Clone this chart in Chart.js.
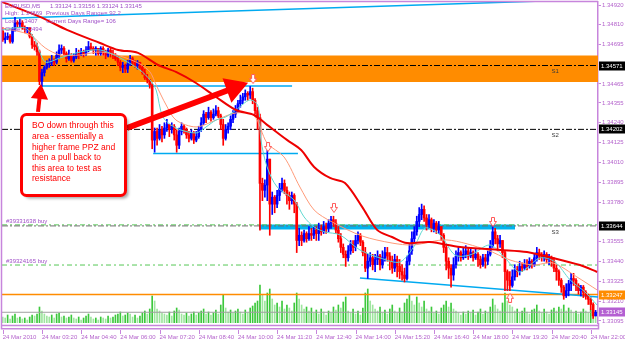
<!DOCTYPE html>
<html>
<head>
<meta charset="utf-8">
<script src="https://cdn.jsdelivr.net/npm/chart.js@4.4.0/dist/chart.umd.min.js"></script>
<style>
  html, body { margin: 0; padding: 0; background: #fff; }
  canvas { display: block; }
</style>
</head>
<body>
<canvas id="myChart" width="625" height="346"></canvas>
<script>
// EURUSD M5, 24 Mar 2010, bars from 02:00
var open = [
  1.3477,1.3472,1.3473,1.3474,1.3471,1.3478,1.3482,1.3481,1.3482,1.3479,
  1.3478,1.3479,1.3474,1.3469,1.3468,1.3465,1.3448,1.3453,1.3456,1.3458,
  1.3459,1.3460,1.3459,1.3463,1.3466,1.3467,1.3464,1.3461,1.3463,1.3460,
  1.3462,1.3464,1.3463,1.3465,1.3464,1.3466,1.3468,1.3467,1.3466,1.3467,
  1.3464,1.3467,1.3465,1.3463,1.3466,1.3464,1.3463,1.3461,1.3459,1.3456,
  1.3457,1.3455,1.3458,1.3461,1.3459,1.3457,1.3459,1.3456,1.3453,1.3450,
  1.3449,1.3446,1.3414,1.3419,1.3415,1.3420,1.3417,1.3421,1.3423,1.3420,
  1.3422,1.3417,1.3411,1.3419,1.3422,1.3420,1.3417,1.3415,1.3418,1.3414,
  1.3416,1.3420,1.3424,1.3429,1.3427,1.3430,1.3427,1.3429,1.3431,1.3428,
  1.3423,1.3415,1.3420,1.3422,1.3426,1.3429,1.3431,1.3435,1.3437,1.3439,
  1.3441,1.3440,1.3442,1.3437,1.3431,1.3427,1.3389,1.3385,1.3388,1.3403,
  1.3377,1.3381,1.3377,1.3382,1.3386,1.3389,1.3385,1.3382,1.3379,1.3382,
  1.3377,1.3356,1.3359,1.3356,1.3360,1.3357,1.3360,1.3359,1.3362,1.3360,
  1.3363,1.3361,1.3364,1.3363,1.3366,1.3368,1.3366,1.3362,1.3357,1.3352,
  1.3348,1.3346,1.3350,1.3354,1.3352,1.3356,1.3359,1.3355,1.3349,1.3340,
  1.3344,1.3346,1.3342,1.3345,1.3347,1.3342,1.3346,1.3349,1.3347,1.3344,
  1.3340,1.3345,1.3341,1.3338,1.3336,1.3334,1.3344,1.3350,1.3357,1.3361,
  1.3367,1.3371,1.3374,1.3369,1.3365,1.3368,1.3363,1.3366,1.3362,1.3364,
  1.3359,1.3352,1.3344,1.3340,1.3336,1.3342,1.3347,1.3349,1.3346,1.3348,
  1.3350,1.3347,1.3349,1.3346,1.3348,1.3345,1.3342,1.3346,1.3344,1.3348,
  1.3353,1.3361,1.3357,1.3354,1.3356,1.3349,1.3338,1.3333,1.3330,1.3335,
  1.3339,1.3338,1.3341,1.3340,1.3342,1.3341,1.3344,1.3342,1.3346,1.3349,
  1.3347,1.3346,1.3348,1.3345,1.3346,1.3344,1.3340,1.3338,1.3333,1.3329,
  1.3324,1.3327,1.3331,1.3334,1.3333,1.3330,1.3327,1.3329,1.3326,1.3324,
  1.3322,1.3319,1.33124
];
var high = [
  1.3479,1.3476,1.3476,1.3475,1.3479,1.3485,1.3483,1.3484,1.3483,1.3480,
  1.3479,1.3479,1.3475,1.3471,1.3470,1.3466,1.3455,1.3457,1.3460,1.3461,
  1.3463,1.3461,1.3465,1.3469,1.3469,1.3468,1.3465,1.3466,1.3464,1.3464,
  1.3467,1.3466,1.3467,1.3466,1.3468,1.3471,1.3470,1.3468,1.3468,1.3467,
  1.3468,1.3468,1.3466,1.3467,1.3467,1.3466,1.3464,1.3463,1.3460,1.3459,
  1.3458,1.3460,1.3463,1.3462,1.3460,1.3460,1.3459,1.3457,1.3455,1.3452,
  1.3449,1.3447,1.3421,1.3421,1.3423,1.3422,1.3424,1.3426,1.3423,1.3424,
  1.3423,1.3420,1.3421,1.3424,1.3423,1.3421,1.3419,1.3420,1.3419,1.3419,
  1.3422,1.3427,1.3431,1.3430,1.3433,1.3431,1.3432,1.3434,1.3433,1.3429,
  1.3426,1.3423,1.3424,1.3428,1.3431,1.3434,1.3437,1.3440,1.3441,1.3443,
  1.3442,1.3445,1.3444,1.3438,1.3433,1.3429,1.3392,1.3391,1.3408,1.3403,
  1.3384,1.3382,1.3385,1.3389,1.3392,1.3391,1.3387,1.3384,1.3384,1.3383,
  1.3378,1.3363,1.3361,1.3362,1.3361,1.3364,1.3363,1.3364,1.3364,1.3366,
  1.3365,1.3367,1.3366,1.3368,1.3370,1.3370,1.3368,1.3364,1.3360,1.3354,
  1.3350,1.3353,1.3356,1.3356,1.3359,1.3361,1.3360,1.3356,1.3352,1.3348,
  1.3349,1.3348,1.3348,1.3350,1.3348,1.3350,1.3352,1.3352,1.3349,1.3347,
  1.3348,1.3347,1.3345,1.3342,1.3340,1.3347,1.3354,1.3361,1.3364,1.3370,
  1.3375,1.3377,1.3376,1.3371,1.3371,1.3369,1.3368,1.3367,1.3367,1.3364,
  1.3360,1.3353,1.3346,1.3342,1.3346,1.3350,1.3352,1.3350,1.3352,1.3353,
  1.3352,1.3352,1.3350,1.3351,1.3349,1.3347,1.3348,1.3348,1.3350,1.3356,
  1.3367,1.3363,1.3359,1.3359,1.3356,1.3350,1.3339,1.3338,1.3339,1.3342,
  1.3341,1.3344,1.3343,1.3345,1.3345,1.3346,1.3345,1.3348,1.3352,1.3351,
  1.3349,1.3350,1.3349,1.3348,1.3347,1.3346,1.3342,1.3339,1.3334,1.3330,
  1.3331,1.3333,1.3337,1.3337,1.3334,1.3331,1.3330,1.3330,1.3327,1.3325,
  1.3323,1.3320,1.33156
];
var low = [
  1.3471,1.3470,1.3472,1.3470,1.3470,1.3477,1.3479,1.3479,1.3478,1.3476,
  1.3476,1.3473,1.3467,1.3466,1.3463,1.3446,1.3445,1.3451,1.3455,1.3456,
  1.3457,1.3457,1.3458,1.3461,1.3464,1.3463,1.3459,1.3460,1.3459,1.3459,
  1.3461,1.3461,1.3463,1.3462,1.3463,1.3465,1.3466,1.3464,1.3463,1.3463,
  1.3463,1.3463,1.3461,1.3462,1.3462,1.3461,1.3460,1.3457,1.3454,1.3453,
  1.3453,1.3453,1.3457,1.3457,1.3456,1.3455,1.3455,1.3452,1.3449,1.3447,
  1.3444,1.3409,1.3407,1.3411,1.3414,1.3413,1.3415,1.3419,1.3416,1.3418,
  1.3414,1.3407,1.3409,1.3417,1.3418,1.3415,1.3413,1.3414,1.3412,1.3413,
  1.3415,1.3419,1.3423,1.3424,1.3426,1.3425,1.3426,1.3428,1.3427,1.3420,
  1.3411,1.3414,1.3418,1.3420,1.3424,1.3427,1.3430,1.3433,1.3435,1.3437,
  1.3437,1.3438,1.3435,1.3429,1.3420,1.3362,1.3379,1.3381,1.3379,1.3359,
  1.3371,1.3372,1.3375,1.3379,1.3384,1.3383,1.3377,1.3374,1.3377,1.3372,
  1.3349,1.3353,1.3353,1.3355,1.3355,1.3356,1.3356,1.3357,1.3356,1.3356,
  1.3359,1.3360,1.3360,1.3361,1.3363,1.3364,1.3360,1.3355,1.3349,1.3346,
  1.3341,1.3344,1.3348,1.3349,1.3350,1.3354,1.3353,1.3347,1.3338,1.3334,
  1.3341,1.3339,1.3338,1.3342,1.3339,1.3340,1.3344,1.3344,1.3339,1.3337,
  1.3338,1.3335,1.3334,1.3333,1.3332,1.3333,1.3342,1.3348,1.3355,1.3359,
  1.3364,1.3368,1.3367,1.3362,1.3363,1.3361,1.3361,1.3360,1.3360,1.3356,
  1.3349,1.3339,1.3334,1.3329,1.3333,1.3340,1.3344,1.3344,1.3345,1.3346,
  1.3345,1.3346,1.3344,1.3345,1.3341,1.3340,1.3341,1.3340,1.3342,1.3347,
  1.3352,1.3354,1.3350,1.3352,1.3346,1.3327,1.3327,1.3327,1.3329,1.3333,
  1.3335,1.3336,1.3338,1.3339,1.3339,1.3340,1.3340,1.3341,1.3344,1.3345,
  1.3344,1.3344,1.3343,1.3342,1.3341,1.3338,1.3333,1.3330,1.3326,1.3322,
  1.3323,1.3324,1.3327,1.3330,1.3327,1.3325,1.3324,1.3323,1.3322,1.3319,
  1.3316,1.3311,1.33124
];
var close = [
  1.3472,1.3473,1.3474,1.3471,1.3478,1.3482,1.3481,1.3482,1.3479,1.3478,
  1.3479,1.3474,1.3469,1.3468,1.3465,1.3448,1.3453,1.3456,1.3458,1.3459,
  1.3460,1.3459,1.3463,1.3466,1.3467,1.3464,1.3461,1.3463,1.3460,1.3462,
  1.3464,1.3463,1.3465,1.3464,1.3466,1.3468,1.3467,1.3466,1.3467,1.3464,
  1.3467,1.3465,1.3463,1.3466,1.3464,1.3463,1.3461,1.3459,1.3456,1.3457,
  1.3455,1.3458,1.3461,1.3459,1.3457,1.3459,1.3456,1.3453,1.3450,1.3449,
  1.3446,1.3414,1.3419,1.3415,1.3420,1.3417,1.3421,1.3423,1.3420,1.3422,
  1.3417,1.3411,1.3419,1.3422,1.3420,1.3417,1.3415,1.3418,1.3414,1.3416,
  1.3420,1.3424,1.3429,1.3427,1.3430,1.3427,1.3429,1.3431,1.3428,1.3423,
  1.3415,1.3420,1.3422,1.3426,1.3429,1.3431,1.3435,1.3437,1.3439,1.3441,
  1.3440,1.3442,1.3437,1.3431,1.3427,1.3389,1.3385,1.3388,1.3403,1.3377,
  1.3381,1.3377,1.3382,1.3386,1.3389,1.3385,1.3382,1.3379,1.3382,1.3377,
  1.3356,1.3359,1.3356,1.3360,1.3357,1.3360,1.3359,1.3362,1.3360,1.3363,
  1.3361,1.3364,1.3363,1.3366,1.3368,1.3366,1.3362,1.3357,1.3352,1.3348,
  1.3346,1.3350,1.3354,1.3352,1.3356,1.3359,1.3355,1.3349,1.3340,1.3344,
  1.3346,1.3342,1.3345,1.3347,1.3342,1.3346,1.3349,1.3347,1.3344,1.3340,
  1.3345,1.3341,1.3338,1.3336,1.3334,1.3344,1.3350,1.3357,1.3361,1.3367,
  1.3371,1.3374,1.3369,1.3365,1.3368,1.3363,1.3366,1.3362,1.3364,1.3359,
  1.3352,1.3344,1.3340,1.3336,1.3342,1.3347,1.3349,1.3346,1.3348,1.3350,
  1.3347,1.3349,1.3346,1.3348,1.3345,1.3342,1.3346,1.3344,1.3348,1.3353,
  1.3361,1.3357,1.3354,1.3356,1.3349,1.3338,1.3333,1.3330,1.3335,1.3339,
  1.3338,1.3341,1.3340,1.3342,1.3341,1.3344,1.3342,1.3346,1.3349,1.3347,
  1.3346,1.3348,1.3345,1.3346,1.3344,1.3340,1.3338,1.3333,1.3329,1.3324,
  1.3327,1.3331,1.3334,1.3333,1.3330,1.3327,1.3329,1.3326,1.3324,1.3322,
  1.3319,1.33124,1.33145
];
var volume = [
  36,30,48,24,42,54,30,36,24,30,
  18,36,48,42,54,96,72,54,42,36,
  48,30,54,60,36,42,30,36,48,30,
  24,36,18,30,42,54,36,24,30,18,
  36,30,24,42,30,36,48,54,66,42,
  48,60,54,36,48,30,42,60,72,54,
  84,162,132,84,72,60,54,48,66,42,
  72,90,78,54,48,60,42,54,66,48,
  60,72,84,54,66,48,60,78,54,108,
  168,90,66,78,60,72,84,66,54,78,
  60,90,102,120,132,228,168,132,180,204,
  144,108,120,96,132,84,108,90,72,120,
  180,144,108,84,96,72,90,60,78,54,
  84,66,48,72,60,96,78,108,90,126,
  156,72,60,84,54,72,48,90,180,204,
  132,108,84,72,96,60,78,54,84,108,
  72,60,90,66,120,144,168,132,108,156,
  120,96,132,84,72,96,60,72,54,90,
  108,132,96,120,84,72,60,48,66,54,
  72,60,78,48,66,84,54,72,60,96,
  144,108,84,72,120,180,132,108,96,72,
  84,60,72,90,66,54,78,84,108,72,
  60,84,66,54,78,90,72,96,84,108,
  72,90,78,60,72,54,66,84,72,60,
  78,66,48
];

// moving averages (bar index / price)
var slowMaBar = [-0.3,15.2,26.2,39.7,47.1,55.2,63.4,70.7,78.9,87.1,95.2,102.6,107.9,116.0,121.8,127.1,133.6,139.7,146.7,152.8,158.9,165.0,174.4,186.7,203.0,214.0,224.6,235.6,242.6];
var slowMa = [1.34938,1.34852,1.34777,1.34701,1.34661,1.34644,1.34574,1.34534,1.34470,1.34389,1.34314,1.34285,1.34228,1.34141,1.34083,1.33985,1.33921,1.33892,1.33754,1.33621,1.33580,1.33545,1.33551,1.33522,1.33505,1.33493,1.33459,1.33418,1.33378];
var midMaBar = [-0.3,11.1,17.3,23.4,31.6,39.7,47.9,56.0,60.1,62.6,66.7,70.7,78.9,87.1,95.2,102.6,107.9,114.8,121.3,127.1,134.4,146.7,158.9,167.5,181.3,197.7,207.1,216.5,224.6,234.4,242.6];
var midMa = [1.34788,1.34748,1.34673,1.34632,1.34632,1.34649,1.34626,1.34580,1.34534,1.34459,1.34343,1.34256,1.34216,1.34256,1.34297,1.34280,1.34123,1.34043,1.33869,1.33736,1.33667,1.33586,1.33545,1.33534,1.33563,1.33505,1.33447,1.33418,1.33430,1.33349,1.33274];
var fastMaBar = [-0.3,9.1,13.2,17.3,23.4,31.6,39.7,47.9,56.0,60.1,62.6,65.4,70.7,78.9,83.0,87.1,91.1,95.2,100.9,104.2,105.4,107.9,112.0,118.9,123.0,127.1,131.6,137.7,145.8,154.0,162.2,168.3,172.4,178.5,184.6,190.7,198.9,205.0,211.1,219.3,225.4,231.6,237.7,242.6];
var fastMa = [1.34777,1.34788,1.34719,1.34592,1.34615,1.34649,1.34661,1.34615,1.34545,1.34488,1.34430,1.34274,1.34210,1.34181,1.34216,1.34256,1.34274,1.34314,1.34372,1.34337,1.34141,1.33985,1.33869,1.33794,1.33696,1.33638,1.33609,1.33592,1.33505,1.33459,1.33436,1.33534,1.33632,1.33592,1.33476,1.33476,1.33534,1.33459,1.33378,1.33459,1.33436,1.33332,1.33262,1.33187];

// levels and drawn objects
var levelNames = ['S1', 'S2', 'S3'];
var levelPrices = [1.34571, 1.34202, 1.33644];
var orderTags = ['#39331638 buy', '#39324165 buy'];
var orderPrices = [1.33650, 1.33418];
var orangeLevel = 1.33247;
var bidPrice = 1.33145;
var zonePrices = [1.34476, 1.34629];
var cyanBoxBars = [104.6, 209.1];
var cyanBoxPrices = [1.33623, 1.33652];
var cyanUpperBars = [15.2, 118.1], cyanUpper = 1.34453;
var cyanLowerBars = [61.4, 120.5], cyanLower = 1.34063;
var trendTopBars = [-0.3, 243], trendTop = [1.34843, 1.34954];
var trendLowBars = [145.8, 243], trendLow = [1.33343, 1.33233];
var markerBar = [102.2, 108.3, 135.2, 200.1, 207.1];
var markerPrice = [1.34493, 1.34100, 1.33748, 1.33667, 1.33228];
var markerDir = ['down', 'down', 'down', 'down', 'up'];
var bigArrowBars = [50.7, 94.4], bigArrow = [1.34210, 1.34441];
var smallArrowBars = [14.4, 15.2], smallArrow = [1.34303, 1.34407];

var tagPrices = [1.34571, 1.34202, 1.33644, 1.33247, 1.33145];
var tagColors = ['#000000', '#000000', '#000000', '#ff8c00', '#b45fd2'];

var yTicks = [1.34920,1.34810,1.34695,1.34465,1.34355,1.34240,1.34125,1.34010,1.33895,1.33780,1.33555,1.33440,1.33325,1.33210,1.33095];
var xTickBars = [0,16,32,48,64,80,96,112,128,144,160,176,192,208,224,240];
var xLabels = ['24 Mar 2010','24 Mar 03:20','24 Mar 04:40','24 Mar 06:00','24 Mar 07:20','24 Mar 08:40','24 Mar 10:00','24 Mar 11:20','24 Mar 12:40','24 Mar 14:00','24 Mar 15:20','24 Mar 16:40','24 Mar 18:00','24 Mar 19:20','24 Mar 20:40','24 Mar 22:00'];

var infoLeft = ['EURUSD,M5', 'High: 1.34869', 'Low: 1.3407', 'Close: 1.3494'];
var infoRight = ['1.33124 1.33156 1.33124 1.33145', 'Previous Days Range= 92.2', 'Current Days Range= 106', ''];
var noteLines = ['BO down through this', 'area - essentially a', 'higher frame PPZ and', 'then a pull back to', 'this area to test as', 'resistance'];

var axisColor = '#c785dc';
var textColor = '#b463cc';

Chart.defaults.font.family = '"Liberation Sans", Arial, sans-serif';

// hollow arrow used for the small markers
function makeArrow() {
    var c = document.createElement('canvas');
    c.width = 8; c.height = 10;
    var g = c.getContext('2d');
    g.fillStyle = '#ffffff';
    g.strokeStyle = '#ff5a5a';
    g.lineWidth = 1;
    g.beginPath();
    g.moveTo(2.5, 0.5); g.lineTo(5.5, 0.5); g.lineTo(5.5, 4.5); g.lineTo(7.5, 4.5);
    g.lineTo(4, 9.5); g.lineTo(0.5, 4.5); g.lineTo(2.5, 4.5); g.closePath();
    g.fill(); g.stroke();
    return c;
}
var arrowImg = makeArrow();

var bars = close.map(function (c, i) { return i; });
var candleColor = bars.map(function (i) { return close[i] >= open[i] ? '#0000ff' : '#ff0000'; });
var volColor = bars.map(function (i) { return (i > 0 && volume[i] >= volume[i - 1]) ? '#3cc83c' : '#9fe59f'; });

function seg(xs, ys, color, width, dash, order) {
    return {
        type: 'line',
        data: xs.map(function (x, i) { return { x: x, y: Array.isArray(ys) ? ys[i] : ys }; }),
        borderColor: color, borderWidth: width, borderDash: dash || [],
        pointRadius: 0, order: order
    };
}

var datasets = [
    // orange zone
    {
        type: 'line', data: [{ x: -0.3, y: zonePrices[1] }, { x: 243, y: zonePrices[1] }],
        fill: { value: zonePrices[0] }, backgroundColor: '#ff8c00', borderWidth: 0, pointRadius: 0, order: 20
    },
    // cyan box
    {
        type: 'line', data: [{ x: cyanBoxBars[0], y: cyanBoxPrices[1] }, { x: cyanBoxBars[1], y: cyanBoxPrices[1] }],
        fill: { value: cyanBoxPrices[0] }, backgroundColor: '#00b4f0', borderWidth: 0, pointRadius: 0, order: 19
    },
    // volumes
    {
        type: 'bar', yAxisID: 'yv', data: bars.map(function (i) { return { x: i, y: volume[i] }; }),
        backgroundColor: volColor, barThickness: 1, grouped: false, order: 18
    },
    // level lines
    seg([-0.3, 243], levelPrices[0], '#000000', 1, [6, 2, 2, 2], 15),
    seg([-0.3, 243], levelPrices[1], '#000000', 1, [6, 2, 2, 2], 15),
    seg([-0.3, 243], levelPrices[2], '#6e6e6e', 1, [6, 2, 2, 2], 15),
    seg([-0.3, 243], orderPrices[0], '#55c855', 1, [5, 3, 2, 3], 15),
    seg([-0.3, 243], orderPrices[1], '#55c855', 1, [5, 3, 2, 3], 15),
    seg([-0.3, 243], orangeLevel, '#ff8c00', 1.5, [], 15),
    seg([-0.3, 243], bidPrice, '#a0a0a0', 1, [], 15),
    seg(cyanUpperBars, cyanUpper, '#00aaf0', 1.5, [], 14),
    seg(cyanLowerBars, cyanLower, '#00aaf0', 1.5, [], 14),
    seg(trendTopBars, trendTop, '#00aaf0', 1.5, [], 14),
    seg(trendLowBars, trendLow, '#00aaf0', 1.5, [], 14),
    // candles
    {
        type: 'bar', data: bars.map(function (i) { return { x: i, y: [low[i], high[i]] }; }),
        backgroundColor: candleColor, barThickness: 1, grouped: false, order: 6
    },
    {
        type: 'bar', data: bars.map(function (i) { return { x: i, y: [Math.min(open[i], close[i]), Math.max(open[i], close[i])] }; }),
        backgroundColor: candleColor, barThickness: 2, minBarLength: 1, grouped: false, order: 5
    },
    // moving averages
    {
        type: 'line', data: midMaBar.map(function (x, i) { return { x: x, y: midMa[i] }; }),
        borderColor: '#ff9a78', borderWidth: 1, pointRadius: 0, tension: 0.3, order: 4
    },
    {
        type: 'line', data: fastMaBar.map(function (x, i) { return { x: x, y: fastMa[i] }; }),
        borderColor: '#5fd8d0', borderWidth: 1, pointRadius: 0, tension: 0.3, order: 3
    },
    {
        type: 'line', data: slowMaBar.map(function (x, i) { return { x: x, y: slowMa[i] }; }),
        borderColor: '#ee0000', borderWidth: 2, pointRadius: 0, tension: 0.3, order: 2
    },
    // markers
    {
        type: 'line', showLine: false,
        data: markerBar.map(function (x, i) { return { x: x, y: markerPrice[i] }; }),
        pointStyle: arrowImg, pointRotation: markerDir.map(function (d) { return d === 'up' ? 180 : 0; }),
        order: 1
    },
    // red arrows
    {
        type: 'line', data: bigArrowBars.map(function (x, i) { return { x: x, y: bigArrow[i] }; }),
        borderColor: '#ff0000', borderWidth: 6, pointRadius: [0, 9], pointStyle: 'triangle', pointRotation: 70,
        pointBackgroundColor: '#ff0000', pointBorderColor: '#ff0000', order: 0
    },
    {
        type: 'line', data: smallArrowBars.map(function (x, i) { return { x: x, y: smallArrow[i] }; }),
        borderColor: '#ff0000', borderWidth: 4, pointRadius: [0, 6], pointStyle: 'triangle', pointRotation: 6,
        pointBackgroundColor: '#ff0000', pointBorderColor: '#ff0000', order: 0
    }
];

var overlay = {
    id: 'overlay',
    afterDatasetsDraw: function (chart) {
        var ctx = chart.ctx, sx = chart.scales.x, sy = chart.scales.y, a = chart.chartArea;
        ctx.save();
        ctx.textBaseline = 'middle';
        ctx.font = '6px "Liberation Sans"';

        ctx.fillStyle = '#3a3a3a';
        levelNames.forEach(function (n, i) {
            ctx.fillText(n, sx.getPixelForValue(224), sy.getPixelForValue(levelPrices[i]) + 6);
        });

        ctx.fillStyle = '#a050c8';
        orderTags.forEach(function (t, i) {
            ctx.fillText(t, a.left + 4, sy.getPixelForValue(orderPrices[i]) - 4);
        });

        ctx.fillStyle = '#a050c8';
        infoLeft.forEach(function (t, i) {
            ctx.fillText(t, a.left + 3, 6 + i * 7.8);
            if (infoRight[i]) ctx.fillText(infoRight[i], i === 0 ? 50 : 46, 6 + i * 7.8);
        });

        // note box
        ctx.shadowColor = 'rgba(0,0,0,0.35)';
        ctx.shadowOffsetX = 3; ctx.shadowOffsetY = 3; ctx.shadowBlur = 3;
        ctx.beginPath();
        ctx.roundRect(21.5, 114.5, 104, 81, 5);
        ctx.fillStyle = '#ffffff';
        ctx.fill();
        ctx.shadowColor = 'rgba(0,0,0,0)';
        ctx.lineWidth = 3;
        ctx.strokeStyle = '#ff0000';
        ctx.stroke();
        ctx.fillStyle = '#ff0000';
        ctx.font = '8.5px "Liberation Sans"';
        noteLines.forEach(function (t, i) {
            ctx.fillText(t, 32, 126 + i * 10.6);
        });
        ctx.restore();
    },
    afterDraw: function (chart) {
        var ctx = chart.ctx, sx = chart.scales.x, sy = chart.scales.y, a = chart.chartArea;
        ctx.save();
        // price tags on the axis
        ctx.font = '6px "Liberation Sans"';
        ctx.textBaseline = 'middle';
        tagPrices.forEach(function (p, i) {
            var py = Math.round(sy.getPixelForValue(p));
            ctx.fillStyle = tagColors[i];
            ctx.fillRect(a.right + 1, py - 4.5, 27, 9);
            ctx.fillStyle = '#ffffff';
            ctx.fillText(p.toFixed(5), a.right + 3, py + 0.5);
        });
        // frame
        ctx.strokeStyle = axisColor;
        ctx.lineWidth = 1.5;
        ctx.beginPath();
        ctx.moveTo(1, 1.5); ctx.lineTo(a.right, 1.5);
        ctx.moveTo(1.5, 1); ctx.lineTo(1.5, 329.5);
        ctx.moveTo(1, 325.5); ctx.lineTo(a.right, 325.5);
        ctx.moveTo(1, 328.8); ctx.lineTo(a.right, 328.8);
        ctx.moveTo(a.right + 0.5, a.bottom); ctx.lineTo(a.right + 0.5, 329.5);
        ctx.stroke();
        ctx.lineWidth = 1;
        ctx.beginPath();
        xTickBars.forEach(function (b) {
            var px = Math.round(sx.getPixelForValue(b)) + 0.5;
            ctx.moveTo(px, 330); ctx.lineTo(px, 334);
        });
        ctx.stroke();
        ctx.restore();
    }
};

var myChart = new Chart(document.getElementById('myChart'), {
    type: 'bar',
    data: { datasets: datasets },
    options: {
        responsive: false,
        animation: false,
        devicePixelRatio: 1,
        layout: { autoPadding: false, padding: { left: 2, top: 2, right: 0, bottom: 0 } },
        plugins: { legend: { display: false }, tooltip: { enabled: false } },
        scales: {
            x: {
                type: 'linear', min: -0.3, max: 242.98, offset: false,
                afterBuildTicks: function (s) { s.ticks = xTickBars.map(function (v) { return { value: v }; }); },
                afterFit: function (s) { s.height = 23; s.paddingLeft = 0; s.paddingRight = 0; },
                grid: { display: false, drawTicks: false },
                border: { display: false },
                ticks: {
                    align: 'start', padding: 11, maxRotation: 0, minRotation: 0, autoSkip: false,
                    color: textColor, font: { size: 6 },
                    callback: function (v, i) { return xLabels[i]; }
                }
            },
            y: {
                position: 'right', min: 1.33083, max: 1.34938, beginAtZero: false,
                afterBuildTicks: function (s) { s.ticks = yTicks.map(function (v) { return { value: v }; }); },
                afterFit: function (s) { s.width = 27; s.paddingTop = 0; s.paddingBottom = 0; },
                grid: { drawOnChartArea: false, color: axisColor, tickLength: 3 },
                border: { color: axisColor, width: 1.5 },
                ticks: {
                    padding: 1, autoSkip: false, color: textColor, font: { size: 6 },
                    callback: function (v) { return v.toFixed(5); }
                }
            },
            yv: { display: false, min: 0, max: 1926 }
        }
    },
    plugins: [overlay]
});
</script>
</body>
</html>
